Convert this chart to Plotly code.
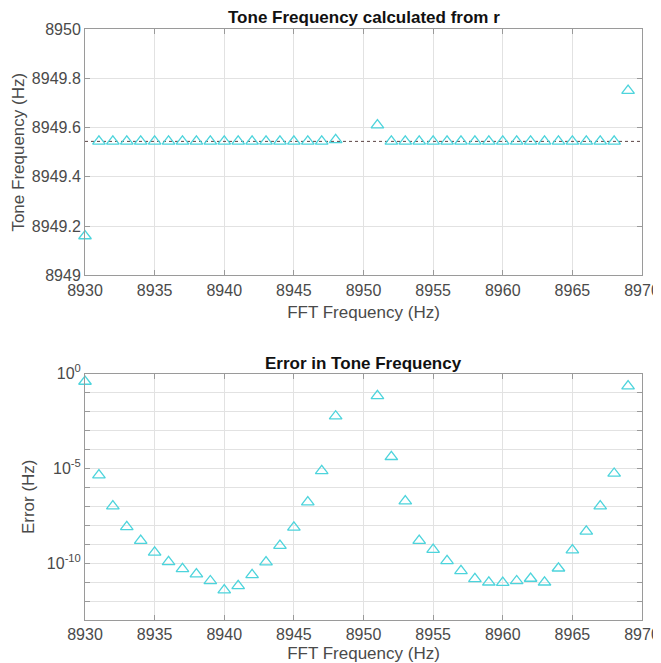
import plotly.graph_objects as go
from plotly.subplots import make_subplots

# ---- data ----
fft_freq = [8930, 8931, 8932, 8933, 8934, 8935, 8936, 8937, 8938, 8939,
            8940, 8941, 8942, 8943, 8944, 8945, 8946, 8947, 8948,
            8951, 8952, 8953, 8954, 8955, 8956, 8957, 8958, 8959, 8960,
            8961, 8962, 8963, 8964, 8965, 8966, 8967, 8968, 8969]

tone_freq = [8949.16, 8949.544, 8949.544, 8949.544, 8949.544, 8949.544, 8949.544, 8949.544,
             8949.544, 8949.544, 8949.544, 8949.544, 8949.544, 8949.544, 8949.544, 8949.544,
             8949.544, 8949.544, 8949.550,
             8949.61, 8949.544, 8949.544, 8949.544, 8949.544, 8949.544, 8949.544, 8949.544,
             8949.544, 8949.544, 8949.544, 8949.544, 8949.544, 8949.544, 8949.544, 8949.544,
             8949.544, 8949.544, 8949.75]

true_tone = 8949.544

error_exp = [-0.42, -5.36, -6.99, -8.09, -8.81, -9.43, -9.93, -10.30, -10.58, -10.94,
             -11.42, -11.20, -10.62, -9.95, -9.08, -8.11, -6.78, -5.13, -2.25,
             -1.18, -4.39, -6.73, -8.81, -9.29, -9.88, -10.41, -10.83, -11.01, -11.03,
             -10.94, -10.81, -11.01, -10.27, -9.31, -8.32, -6.99, -5.27, -0.66]
error_hz = [10 ** e for e in error_exp]

x_ticks = [8930, 8935, 8940, 8945, 8950, 8955, 8960, 8965, 8970]
top_y_ticks = [8949, 8949.2, 8949.4, 8949.6, 8949.8, 8950]
top_y_labels = ["8949", "8949.2", "8949.4", "8949.6", "8949.8", "8950"]
log_tick_vals = [10 ** k for k in range(-13, 1)]
log_tick_text = ["10<sup>%d</sup>" % k if k in (0, -5, -10) else "" for k in range(-13, 1)]

# ---- styling ----
FONT = "Liberation Sans, Arial, Helvetica, sans-serif"
CYAN = "#4dd4dc"
AX = "#9a9a9a"
GRID = "#e2e2e2"
TXT = "#4a4a4a"

fig = make_subplots(rows=2, cols=1, vertical_spacing=0.0)

fig.add_trace(go.Scatter(x=[8930, 8970], y=[true_tone, true_tone], mode="lines",
                         line=dict(color="#5a4444", width=1, dash="dot"),
                         showlegend=False, hoverinfo="skip"), row=1, col=1)
fig.add_trace(go.Scatter(x=fft_freq, y=tone_freq, mode="markers",
                         marker=dict(symbol="triangle-up-open", size=11, color=CYAN,
                                     line=dict(width=1.3, color=CYAN)),
                         showlegend=False, cliponaxis=False), row=1, col=1)
fig.add_trace(go.Scatter(x=fft_freq, y=error_hz, mode="markers",
                         marker=dict(symbol="triangle-up-open", size=11, color=CYAN,
                                     line=dict(width=1.3, color=CYAN)),
                         showlegend=False, cliponaxis=False), row=2, col=1)

axis_common = dict(showline=True, linecolor=AX, linewidth=1, mirror="ticks",
                   ticks="inside", ticklen=5, tickcolor=AX, showgrid=True,
                   gridcolor=GRID, gridwidth=1, zeroline=False, automargin=False,
                   tickfont=dict(family=FONT, size=16, color=TXT))

fig.update_xaxes(range=[8930, 8970], tickvals=x_ticks, ticklabeloverflow="allow",
                 **axis_common,
                 title=dict(text="FFT Frequency (Hz)", font=dict(family=FONT, size=17, color=TXT),
                            standoff=8))
fig.update_yaxes(range=[8949, 8950], tickvals=top_y_ticks, ticktext=top_y_labels,
                 **axis_common, row=1, col=1,
                 title=dict(text="Tone Frequency (Hz)", font=dict(family=FONT, size=17, color=TXT),
                            standoff=2))
fig.update_yaxes(type="log", range=[-13, 0], tickvals=log_tick_vals, ticktext=log_tick_text,
                 **axis_common, row=2, col=1,
                 title=dict(text="Error (Hz)", font=dict(family=FONT, size=17, color=TXT),
                            standoff=7))

# page body has an 8px margin, so the figure is sized to fit the window
fig.update_layout(
    width=653, height=655,
    margin=dict(l=77, r=19, t=21, b=43),
    paper_bgcolor="white", plot_bgcolor="white",
    yaxis=dict(domain=[0.583, 1.0]),
    yaxis2=dict(domain=[0.0, 0.417]),
    annotations=[
        dict(text="<b>Tone Frequency calculated from r</b>", x=0.5, xref="paper",
             y=1.0, yref="paper", yanchor="bottom", yshift=0, showarrow=False,
             font=dict(family=FONT, size=17, color="#111111")),
        dict(text="<b>Error in Tone Frequency</b>", x=0.5, xref="paper",
             y=0.417, yref="paper", yanchor="bottom", yshift=-1, showarrow=False,
             font=dict(family=FONT, size=17, color="#111111")),
    ],
)

fig.write_html("out.html")
